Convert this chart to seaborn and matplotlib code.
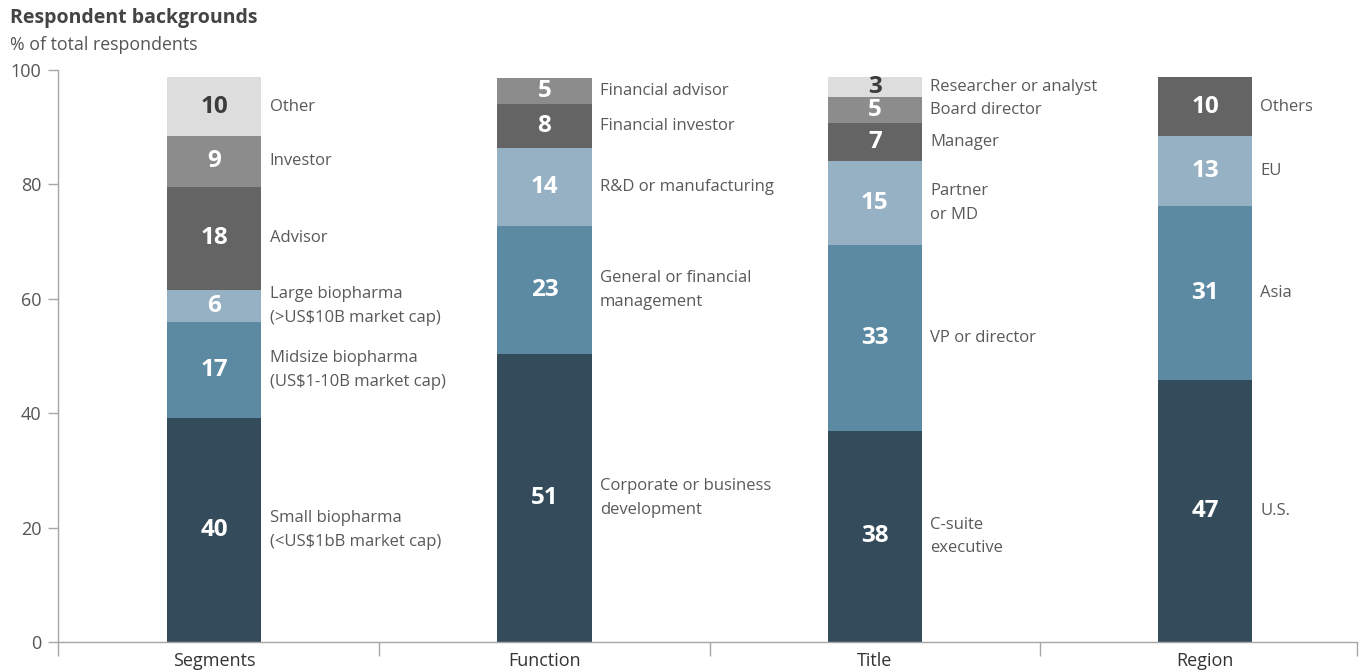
import pandas as pd
import matplotlib
matplotlib.use("Agg")
import matplotlib.pyplot as plt
import seaborn as sns

# ------------------------------------------------------- #
#                          DATOS                          #
# ------------------------------------------------------- #
groups = ["Segments", "Function", "Title", "Region"]

segments_names = ["Small biopharma\n(<US$1bB market cap)",
                  "Midsize biopharma\n(US$1-10B market cap)",
                  "Large biopharma\n(>US$10B market cap)",
                  "Advisor", "Investor", "Other"]
segments_values = [39.2, 16.8, 5.6, 18.0, 8.9, 10.2]
segments_shown = [40, 17, 6, 18, 9, 10]

function_names = ["Corporate or business\ndevelopment",
                  "General or financial\nmanagement",
                  "R&D or manufacturing",
                  "Financial investor", "Financial advisor"]
function_values = [50.3, 22.5, 13.6, 7.7, 4.5]
function_shown = [51, 23, 14, 8, 5]

title_names = ["C-suite\nexecutive", "VP or director", "Partner\nor MD",
               "Manager", "Board director", "Researcher or analyst"]
title_values = [36.9, 32.5, 14.7, 6.6, 4.5, 3.5]
title_shown = [38, 33, 15, 7, 5, 3]

region_names = ["U.S.", "Asia", "EU", "Others"]
region_values = [45.8, 30.5, 12.2, 10.2]
region_shown = [47, 31, 13, 10]

level_colors = ["#344b5c", "#5c8aa3", "#97b1c4", "#646464", "#8c8c8c", "#dddddd"]
level_text = ["white", "white", "white", "white", "white", "#3c3c3c"]

# tabla larga con acumulados
rows = []
for g, names, vals, shown in [("Segments", segments_names, segments_values, segments_shown),
                              ("Function", function_names, function_values, function_shown),
                              ("Title", title_names, title_values, title_shown),
                              ("Region", region_names, region_values, region_shown)]:
    bottom = 0
    for lvl, (n, v, s) in enumerate(zip(names, vals, shown)):
        rows.append({"group": g, "level": lvl, "name": n, "value": v,
                     "shown": s, "bottom": bottom, "top": bottom + v})
        bottom += v
df = pd.DataFrame(rows)

# ------------------------------------------------------- #
#                         GRAFICO                         #
# ------------------------------------------------------- #
sns.set_style("white")
plt.rcParams["font.family"] = ["Open Sans", "DejaVu Sans"]

fig = plt.figure(figsize=(13.59, 6.71), dpi=100)
ax = fig.add_axes([58 / 1359, 1 - 642 / 671, (1357 - 58) / 1359, (642 - 70) / 671])

bar_w = 0.285
# barras apiladas: se pinta el acumulado de arriba hacia abajo
for lvl in sorted(df["level"].unique(), reverse=True):
    sub = df[df["level"] == lvl]
    sns.barplot(data=sub, x="group", y="top", order=groups, color=level_colors[lvl],
                width=bar_w, errorbar=None, saturation=1, linewidth=0, ax=ax)

for _, r in df.iterrows():
    i = groups.index(r["group"])
    mid = r["bottom"] + r["value"] / 2
    ax.text(i, mid, str(r["shown"]), ha="center", va="center", fontsize=17.5,
            fontweight="bold", color=level_text[r["level"]])
    ax.text(i + bar_w / 2 + 0.025, mid, r["name"], ha="left", va="center",
            fontsize=12, color="#595959", linespacing=1.65)

x0, x1 = -0.473, 3.46
ax.set_xlim(x0, x1)
ax.set_ylim(0, 100)
ax.set_yticks([0, 20, 40, 60, 80, 100])
ax.set_xticks(range(len(groups)))
ax.set_xticklabels(groups)
ax.set_xticks([x0, 0.5, 1.5, 2.5, x1], minor=True)
ax.set_xlabel("")
ax.set_ylabel("")

for s in ["top", "right"]:
    ax.spines[s].set_visible(False)
for s in ["left", "bottom"]:
    ax.spines[s].set_color("#a6a6a6")
    ax.spines[s].set_linewidth(1)

ax.tick_params(axis="y", length=7, width=1, color="#a6a6a6", labelsize=13,
               labelcolor="#555555", pad=5, left=True)
ax.tick_params(axis="x", which="major", length=0, labelsize=13,
               labelcolor="#333333", pad=7)
ax.tick_params(axis="x", which="minor", length=10, width=1, color="#a6a6a6",
               bottom=True)

fig.text(10 / 1359, 1 - 18 / 671, "Respondent backgrounds", fontsize=14,
         fontweight="bold", color="#444444", va="center")
fig.text(10 / 1359, 1 - 45 / 671, "% of total respondents", fontsize=12.75,
         color="#555555", va="center")

plt.savefig("out.png", dpi=100)
